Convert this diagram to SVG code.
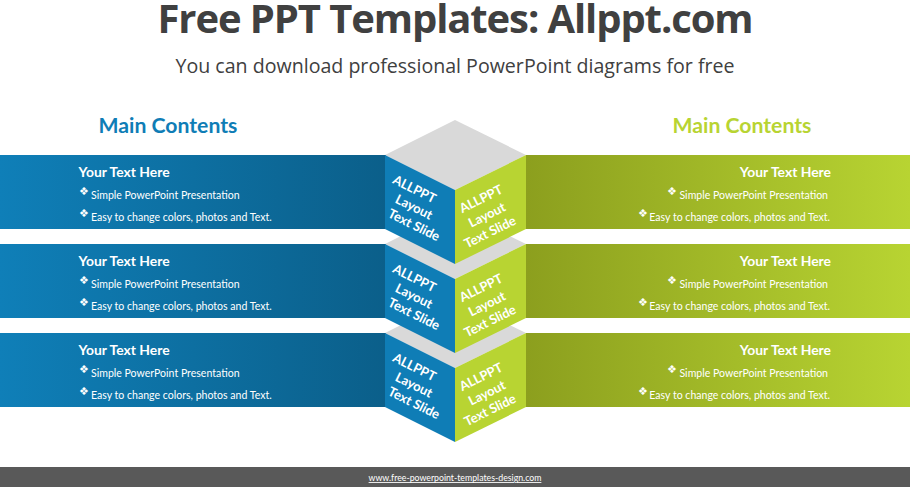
<svg xmlns="http://www.w3.org/2000/svg" width="910" height="487" viewBox="0 0 910 487">
<defs>
<linearGradient id="gb" x1="0" x2="1" y1="0" y2="0"><stop offset="0" stop-color="#0f7fb8"/><stop offset="1" stop-color="#0b5f8a"/></linearGradient>
<linearGradient id="gg" x1="0" x2="1" y1="0" y2="0"><stop offset="0" stop-color="#8c9f1e"/><stop offset="1" stop-color="#b8d432"/></linearGradient>
<g id="cube">
<path d="M385 155L455 120L526 155L455 190Z" fill="#d9d9d9"/>
<path d="M385 155L455 190V264L385 229Z" fill="#0f7db6"/>
<path d="M526 155L455 190V264L526 229Z" fill="#b8d432"/>
<g class="cube" text-anchor="middle">
<text transform="translate(412.500 193) rotate(26.5)">ALLPPT</text>
<text transform="translate(412 211) rotate(26.5)">Layout</text>
<text transform="translate(412 229) rotate(26.5)">Text Slide</text>
<text transform="translate(483 203) rotate(-26.5)">ALLPPT</text>
<text transform="translate(489 219) rotate(-26.5)">Layout</text>
<text transform="translate(492 236) rotate(-26.5)">Text Slide</text>
</g>
</g>
</defs>
<style>
text{font-family:"Lato","Carlito","Liberation Sans",sans-serif}
.t{font-family:"Open Sans","Noto Sans",sans-serif;fill:#404040;text-anchor:middle}
.m{font-size:21.2px;font-weight:700;text-anchor:middle}
.h{font-size:13.9px;font-weight:700;fill:#fff}
.s{font-size:10.55px;fill:#fff}
.b{font-family:"DejaVu Sans",sans-serif;font-size:11px;fill:#fff}
.cube{font-size:13px;font-weight:700;fill:#fff}
.e{text-anchor:end}
</style>
<rect width="910" height="487" fill="#fff"/>
<text class="t" x="455" y="33" font-size="40" font-weight="700" letter-spacing="-1.100">Free PPT Templates: Allppt.com</text>
<text class="t" x="455" y="73" font-size="19.6">You can download professional PowerPoint diagrams for free</text>
<text class="m" x="168" y="133" fill="#0f7db6">Main Contents</text>
<text class="m" x="742" y="133" fill="#b8d432">Main Contents</text>

<g id="panels">
<rect x="0" y="155" width="386" height="74" fill="url(#gb)"/>
<rect x="0" y="244" width="386" height="74" fill="url(#gb)"/>
<rect x="0" y="333" width="386" height="74" fill="url(#gb)"/>
<rect x="526" y="155" width="384" height="74" fill="url(#gg)"/>
<rect x="526" y="244" width="384" height="74" fill="url(#gg)"/>
<rect x="526" y="333" width="384" height="74" fill="url(#gg)"/>
</g>

<g id="cube3"><use href="#cube" y="178"/></g>
<g id="cube2"><use href="#cube" y="89"/></g>
<g id="cube1"><use href="#cube"/></g>

<g id="left1">
<text class="h" x="78.500" y="177">Your Text Here</text>
<text class="b" x="79" y="195">❖</text><text class="s" x="91" y="198.500">Simple PowerPoint Presentation</text>
<text class="b" x="79" y="217">❖</text><text class="s" x="91" y="220.500">Easy to change colors, photos and Text.</text>
</g>
<g id="left2">
<text class="h" x="78.500" y="266">Your Text Here</text>
<text class="b" x="79" y="284">❖</text><text class="s" x="91" y="287.500">Simple PowerPoint Presentation</text>
<text class="b" x="79" y="306">❖</text><text class="s" x="91" y="309.500">Easy to change colors, photos and Text.</text>
</g>
<g id="left3">
<text class="h" x="78.500" y="355">Your Text Here</text>
<text class="b" x="79" y="373">❖</text><text class="s" x="91" y="376.500">Simple PowerPoint Presentation</text>
<text class="b" x="79" y="395">❖</text><text class="s" x="91" y="398.500">Easy to change colors, photos and Text.</text>
</g>
<g id="right1">
<text class="h e" x="831" y="177">Your Text Here</text>
<text class="b" x="667" y="195">❖</text><text class="s e" x="828" y="198.500">Simple PowerPoint Presentation</text>
<text class="b" x="638" y="217">❖</text><text class="s e" x="830" y="220.500">Easy to change colors, photos and Text.</text>
</g>
<g id="right2">
<text class="h e" x="831" y="266">Your Text Here</text>
<text class="b" x="667" y="284">❖</text><text class="s e" x="828" y="287.500">Simple PowerPoint Presentation</text>
<text class="b" x="638" y="306">❖</text><text class="s e" x="830" y="309.500">Easy to change colors, photos and Text.</text>
</g>
<g id="right3">
<text class="h e" x="831" y="355">Your Text Here</text>
<text class="b" x="667" y="373">❖</text><text class="s e" x="828" y="376.500">Simple PowerPoint Presentation</text>
<text class="b" x="638" y="395">❖</text><text class="s e" x="830" y="398.500">Easy to change colors, photos and Text.</text>
</g>

<g id="footer">
<rect x="0" y="467" width="910" height="20" fill="#595959"/>
<text x="455" y="481" font-size="8.750" fill="#fff" text-anchor="middle" text-decoration="underline">www.free-powerpoint-templates-design.com</text>
</g>
</svg>
